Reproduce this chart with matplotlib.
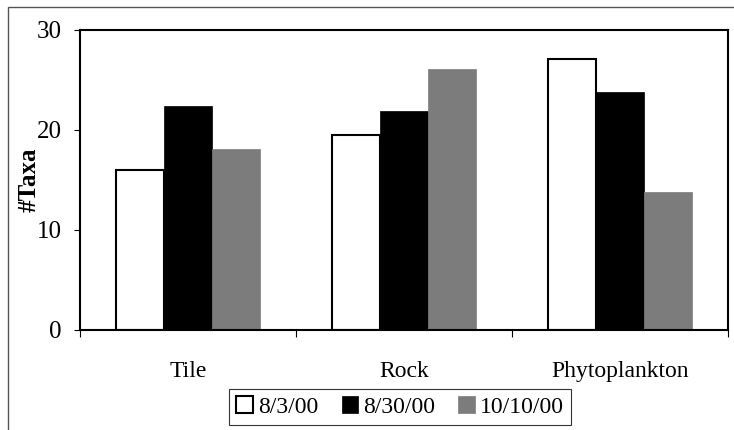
import numpy as np
import matplotlib.pyplot as plt
from matplotlib.patches import Rectangle

plt.rcParams['font.family'] = ['Liberation Serif', 'DejaVu Serif']

sites = ['Tile', 'Rock', 'Phytoplankton']
dates = ['8/3/00', '8/30/00', '10/10/00']
taxa_aug3 = [16.0, 19.5, 27.1]
taxa_aug30 = [22.4, 21.9, 23.8]
taxa_oct10 = [18.1, 26.1, 13.8]

fig = plt.figure(figsize=(7.34, 4.30), dpi=100)
ax = fig.add_axes([80 / 734, 1 - 330 / 430, 648 / 734, 300 / 430])

x = np.arange(len(sites))
w = 0.222
ax.bar(x - w, taxa_aug3, w, color='white', edgecolor='black', linewidth=1.5, label=dates[0])
ax.bar(x, taxa_aug30, w, color='black', edgecolor='black', linewidth=0.5, label=dates[1])
ax.bar(x + w, taxa_oct10, w, color='#7c7c7c', edgecolor='#7c7c7c', linewidth=0.5, label=dates[2])

ax.set_xlim(-0.5, 2.5)
ax.set_ylim(0, 30)
ax.set_yticks([0, 10, 20, 30])
ax.tick_params(axis='y', labelsize=18, length=4, direction='out', pad=9)

# boundary ticks between categories, labels centred underneath
ax.set_xticks([-0.5, 0.5, 1.5, 2.5])
ax.set_xticklabels([])
ax.tick_params(axis='x', length=5, direction='out')
ax.set_xticks(x, minor=True)
ax.set_xticklabels(sites, minor=True)
ax.tick_params(axis='x', which='minor', length=0, labelsize=17, pad=22)

for s in ax.spines.values():
    s.set_linewidth(1.5)

ax.set_ylabel('#Taxa', fontsize=18, fontweight='bold')
ax.yaxis.set_label_coords(-0.06, 0.5)

leg = fig.legend(loc='upper center', bbox_to_anchor=(400 / 734, 1 - 389 / 430), ncol=3,
                 fontsize=17, frameon=True, fancybox=False, handlelength=0.7,
                 handleheight=0.7, handletextpad=0.2, columnspacing=1.0,
                 borderpad=0.3, borderaxespad=0)
leg.get_frame().set_edgecolor('black')
leg.get_frame().set_linewidth(0.8)

# thin outer frame around the chart
fig.patches.append(Rectangle((8 / 734, -0.05), 1.2, 1 - 7 / 430 + 0.05,
                             transform=fig.transFigure, fill=False,
                             edgecolor='#555555', linewidth=1.0))

fig.savefig('out.png', dpi=100)
